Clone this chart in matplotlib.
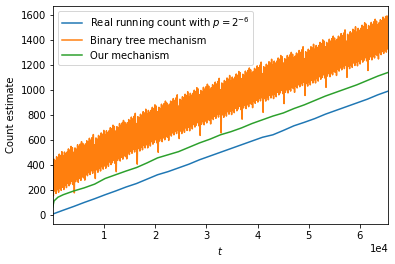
import matplotlib.pyplot as plt
import numpy as np

# running count estimates over t = 1 .. 2^16

# real running count (sampled every 2048 steps)
t_real = np.arange(0, 65537, 2048)
real_count = [5, 36, 66, 98, 128, 160, 190, 222, 250, 285, 320, 345, 375, 405,
              440, 470, 500, 530, 560, 590, 620, 640, 675, 712, 740, 770, 805,
              835, 865, 895, 925, 960, 990]

# our mechanism
t_ours = [0, 256, 1024, 2048, 4096, 6144, 8192, 10240, 12288, 14336, 16384,
          18432, 20480, 22528, 24576, 26624, 28672, 30720, 32768, 34816, 36864,
          38912, 40960, 43008, 45056, 47104, 49152, 51200, 53248, 55296, 57344,
          59392, 61440, 63488, 65536]
ours = [60, 110, 140, 160, 190, 215, 245, 290, 320, 350, 378, 415, 455, 480,
        505, 540, 575, 605, 640, 665, 695, 730, 760, 790, 815, 850, 880, 915,
        950, 980, 1010, 1040, 1075, 1110, 1140]

# binary tree mechanism is very noisy: keep the tops and bottoms of the band
t_tree_hi = np.arange(0, 65537, 256)
t_tree_lo = np.arange(128, 65536, 256)
tree_hi = [
    420, 445, 435, 465, 455, 485, 475, 505, 472, 502, 487, 502, 527, 517, 547, 537,
    500, 535, 525, 560, 545, 565, 585, 570, 552, 567, 592, 582, 612, 597, 617, 642,
    560, 615, 605, 635, 625, 655, 645, 675, 642, 672, 657, 672, 697, 687, 717, 707,
    670, 705, 695, 730, 715, 735, 755, 740, 722, 737, 762, 752, 782, 767, 787, 812,
    730, 785, 775, 805, 795, 825, 815, 845, 805, 835, 820, 835, 860, 850, 880, 870,
    825, 860, 850, 885, 870, 890, 910, 895, 870, 885, 910, 900, 930, 915, 935, 960,
    870, 925, 915, 945, 935, 965, 955, 985, 942, 972, 957, 972, 997, 987, 1017, 1007,
    960, 995, 985, 1020, 1005, 1025, 1045, 1030, 1002, 1017, 1042, 1032, 1062, 1047, 1067, 1092,
    1000, 1055, 1045, 1075, 1065, 1095, 1085, 1115, 1072, 1102, 1087, 1102, 1127, 1117, 1147, 1137,
    1090, 1125, 1115, 1150, 1135, 1155, 1175, 1160, 1132, 1147, 1172, 1162, 1192, 1177, 1197, 1222,
    1130, 1185, 1175, 1205, 1195, 1225, 1215, 1245, 1200, 1230, 1215, 1230, 1255, 1245, 1275, 1265,
    1215, 1250, 1240, 1275, 1260, 1280, 1300, 1285, 1255, 1270, 1295, 1285, 1315, 1300, 1320, 1345,
    1250, 1305, 1295, 1325, 1315, 1345, 1335, 1365, 1325, 1355, 1340, 1355, 1380, 1370, 1400, 1390,
    1345, 1380, 1370, 1405, 1390, 1410, 1430, 1415, 1390, 1405, 1430, 1420, 1450, 1435, 1455, 1480,
    1390, 1445, 1435, 1465, 1455, 1485, 1475, 1505, 1462, 1492, 1477, 1492, 1517, 1507, 1537, 1527,
    1480, 1515, 1505, 1540, 1525, 1545, 1565, 1550, 1522, 1537, 1562, 1552, 1582, 1567, 1587, 1592,
    1575]
tree_lo = [
    150, 190, 170, 200, 180, 215, 195, 220, 202, 237, 217, 252, 232, 247, 267, 242,
    175, 265, 285, 260, 290, 275, 305, 295, 277, 327, 312, 337, 322, 352, 332, 357,
    290, 360, 340, 370, 350, 385, 365, 390, 372, 407, 387, 422, 402, 417, 437, 412,
    345, 435, 455, 430, 460, 445, 475, 465, 447, 497, 482, 507, 492, 522, 502, 527,
    405, 530, 510, 540, 520, 555, 535, 560, 535, 570, 550, 585, 565, 580, 600, 575,
    500, 590, 610, 585, 615, 600, 630, 620, 595, 645, 630, 655, 640, 670, 650, 675,
    610, 670, 650, 680, 660, 695, 675, 700, 672, 707, 687, 722, 702, 717, 737, 712,
    635, 725, 745, 720, 750, 735, 765, 755, 727, 777, 762, 787, 772, 802, 782, 807,
    655, 800, 780, 810, 790, 825, 805, 830, 802, 837, 817, 852, 832, 847, 867, 842,
    765, 855, 875, 850, 880, 865, 895, 885, 857, 907, 892, 917, 902, 932, 912, 937,
    820, 930, 910, 940, 920, 955, 935, 960, 930, 965, 945, 980, 960, 975, 995, 970,
    890, 980, 1000, 975, 1005, 990, 1020, 1010, 980, 1030, 1015, 1040, 1025, 1055, 1035, 1060,
    955, 1050, 1030, 1060, 1040, 1075, 1055, 1080, 1055, 1090, 1070, 1105, 1085, 1100, 1120, 1095,
    1020, 1110, 1130, 1105, 1135, 1120, 1150, 1140, 1115, 1165, 1150, 1175, 1160, 1190, 1170, 1195,
    1100, 1190, 1170, 1200, 1180, 1215, 1195, 1220, 1192, 1227, 1207, 1242, 1222, 1237, 1257, 1232,
    1155, 1245, 1265, 1240, 1270, 1255, 1285, 1275, 1247, 1297, 1282, 1307, 1292, 1322, 1302, 1327]

# interleave tops and bottoms so the line zigzags through the band
t_tree = np.empty(len(t_tree_hi) + len(t_tree_lo))
t_tree[0::2] = t_tree_hi
t_tree[1::2] = t_tree_lo
tree = np.empty(len(t_tree))
tree[0::2] = tree_hi
tree[1::2] = tree_lo

fig = plt.figure(figsize=(395 / 72, 264 / 72), dpi=72)
ax = fig.add_axes([0.1334, 0.1515, 0.8496, 0.8258])

ax.plot(t_real, real_count, label=r'Real running count with $p = 2^{-6}$')
ax.plot(t_tree, tree, label='Binary tree mechanism')
ax.plot(t_ours, ours, label='Our mechanism')

ax.set_xlim(1, 65536)
ax.ticklabel_format(axis='x', style='sci', scilimits=(0, 0))
ax.set_xlabel('$t$')
ax.set_ylabel('Count estimate')
ax.legend(loc='upper left')

fig.savefig('out.png', dpi=72)
